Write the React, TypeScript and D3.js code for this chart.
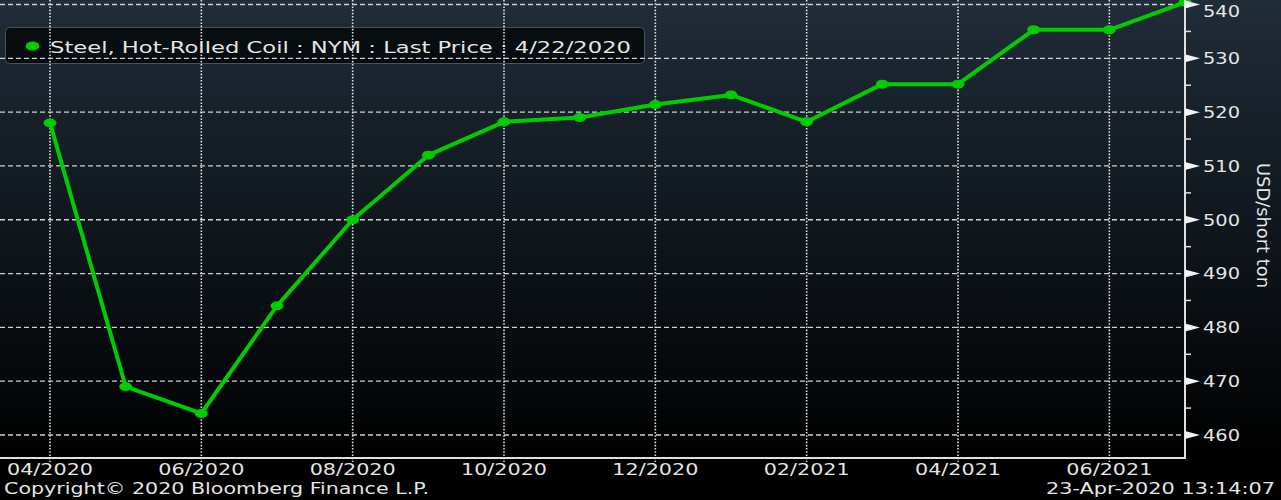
import { useEffect, useRef } from "react";
import * as d3 from "d3";

// Monthly HRC futures curve
const months = [
  "04/2020", "05/2020", "06/2020", "07/2020", "08/2020", "09/2020", "10/2020", "11/2020",
  "12/2020", "01/2021", "02/2021", "03/2021", "04/2021", "05/2021", "06/2021", "07/2021",
];
const prices = [518, 469, 464, 484, 500, 512, 518.2, 519, 521.4, 523.2, 518.2, 525.2, 525.2, 535.3, 535.3, 540.4];
const xTickIdx = [0, 2, 4, 6, 8, 10, 12, 14];
const yTicks = [460, 470, 480, 490, 500, 510, 520, 530, 540];
const yMinor = [465, 475, 485, 495, 505, 515, 525, 535];

const legendText = "Steel, Hot-Rolled Coil : NYM : Last Price : 4/22/2020";
const yTitle = "USD/short ton";
const copyright = "Copyright\u00A9 2020 Bloomberg Finance L.P.";
const stamp = "23-Apr-2020 13:14:07";

const W = 1281;
const H = 500;
const R = 1185; // right axis
const B = 458; // bottom axis
const FONT = "'DejaVu Sans', Verdana, sans-serif";
const GREEN = "#00cc00";
const INK = "#e4e4e4";

export default function App() {
  const svgRef = useRef<SVGSVGElement>(null);

  useEffect(() => {
    const svg = d3.select(svgRef.current!);
    svg.selectAll("*").remove();

    const x = d3.scaleLinear().domain([0, months.length - 1]).range([50, R]);
    const y = d3.scaleLinear().domain([460, 540]).range([435, 4.5]);

    const defs = svg.append("defs");
    const grad = defs
      .append("linearGradient")
      .attr("id", "bg")
      .attr("x1", 0)
      .attr("y1", 0)
      .attr("x2", 0)
      .attr("y2", 1);
    grad.append("stop").attr("offset", "0%").attr("stop-color", "#202c38");
    grad.append("stop").attr("offset", "55%").attr("stop-color", "#0e141a");
    grad.append("stop").attr("offset", "100%").attr("stop-color", "#000");

    svg.append("rect").attr("width", W).attr("height", H).attr("fill", "#000");
    svg.append("rect").attr("width", W).attr("height", B).attr("fill", "url(#bg)");

    // legend box (grid shows on top of it)
    svg
      .append("rect")
      .attr("x", 5.5)
      .attr("y", 27.5)
      .attr("width", 639)
      .attr("height", 36)
      .attr("rx", 4)
      .attr("fill", "rgba(5,8,11,0.85)")
      .attr("stroke", "#4a5058")
      .attr("stroke-width", 1);

    // grid
    svg
      .append("g")
      .selectAll("line")
      .data(yTicks)
      .join("line")
      .attr("x1", 0)
      .attr("x2", R)
      .attr("y1", (d) => y(d))
      .attr("y2", (d) => y(d))
      .attr("stroke", "#cfcfcf")
      .attr("stroke-width", 1.3)
      .attr("stroke-dasharray", "5 3");

    svg
      .append("g")
      .selectAll("line")
      .data(xTickIdx)
      .join("line")
      .attr("x1", (d) => x(d))
      .attr("x2", (d) => x(d))
      .attr("y1", 0)
      .attr("y2", B + 4)
      .attr("stroke", "#dcdcdc")
      .attr("stroke-width", 1.6)
      .attr("stroke-dasharray", "1.6 1.6");

    // series
    const pts = prices.map((p, i) => [x(i), y(p)] as [number, number]);
    svg
      .append("path")
      .datum(pts)
      .attr("fill", "none")
      .attr("stroke", GREEN)
      .attr("stroke-width", 4)
      .attr("stroke-linejoin", "round")
      .attr("d", d3.line());
    svg
      .append("g")
      .selectAll("ellipse")
      .data(pts)
      .join("ellipse")
      .attr("cx", (d) => d[0])
      .attr("cy", (d) => d[1])
      .attr("rx", 6.5)
      .attr("ry", 4.5)
      .attr("fill", GREEN);

    // axes
    svg
      .append("path")
      .attr("d", `M0,${B}H${R}V0`)
      .attr("fill", "none")
      .attr("stroke", "#e0e0e0")
      .attr("stroke-width", 2);

    svg
      .append("g")
      .selectAll("path")
      .data(yTicks)
      .join("path")
      .attr("d", (d) => `M${R},${y(d) - 4}L${R + 15},${y(d)}L${R},${y(d) + 4}Z`)
      .attr("fill", "#f2f2f2");
    svg
      .append("g")
      .selectAll("line")
      .data(yMinor)
      .join("line")
      .attr("x1", R)
      .attr("x2", R + 6)
      .attr("y1", (d) => y(d))
      .attr("y2", (d) => y(d))
      .attr("stroke", "#e0e0e0")
      .attr("stroke-width", 1.5);

    svg
      .append("g")
      .selectAll("text")
      .data(yTicks)
      .join("text")
      .attr("x", 1203)
      .attr("y", (d) => Math.max(y(d), 11))
      .attr("dy", "0.36em")
      .attr("textLength", 37)
      .attr("lengthAdjust", "spacingAndGlyphs")
      .attr("font-family", FONT)
      .attr("font-size", 16)
      .attr("fill", INK)
      .text((d) => d);

    svg
      .append("g")
      .selectAll("text")
      .data(xTickIdx)
      .join("text")
      .attr("x", (d) => x(d))
      .attr("y", 475)
      .attr("text-anchor", "middle")
      .attr("textLength", 86)
      .attr("lengthAdjust", "spacingAndGlyphs")
      .attr("font-family", FONT)
      .attr("font-size", 16.5)
      .attr("fill", INK)
      .text((d) => months[d]);

    svg
      .append("text")
      .attr("transform", `translate(1257,163) rotate(90)`)
      .attr("textLength", 125)
      .attr("lengthAdjust", "spacingAndGlyphs")
      .attr("font-family", FONT)
      .attr("font-size", 18)
      .attr("fill", INK)
      .text(yTitle);

    // legend content
    svg.append("ellipse").attr("cx", 32.5).attr("cy", 46).attr("rx", 7).attr("ry", 4.5).attr("fill", GREEN);
    svg
      .append("text")
      .attr("x", 50)
      .attr("y", 53)
      .attr("textLength", 581)
      .attr("lengthAdjust", "spacingAndGlyphs")
      .attr("font-family", FONT)
      .attr("font-size", 16.5)
      .attr("fill", INK)
      .text(legendText);

    // footer
    svg
      .append("text")
      .attr("x", 4)
      .attr("y", 494)
      .attr("textLength", 425)
      .attr("lengthAdjust", "spacingAndGlyphs")
      .attr("font-family", FONT)
      .attr("font-size", 15)
      .attr("fill", INK)
      .text(copyright);
    svg
      .append("text")
      .attr("x", 1046)
      .attr("y", 494)
      .attr("textLength", 229)
      .attr("lengthAdjust", "spacingAndGlyphs")
      .attr("font-family", FONT)
      .attr("font-size", 15)
      .attr("fill", INK)
      .text(stamp);
  }, []);

  return (
    <div style={{ position: "absolute", left: 0, top: 0 }}>
      <svg ref={svgRef} width={W} height={H} style={{ display: "block" }} />
    </div>
  );
}
